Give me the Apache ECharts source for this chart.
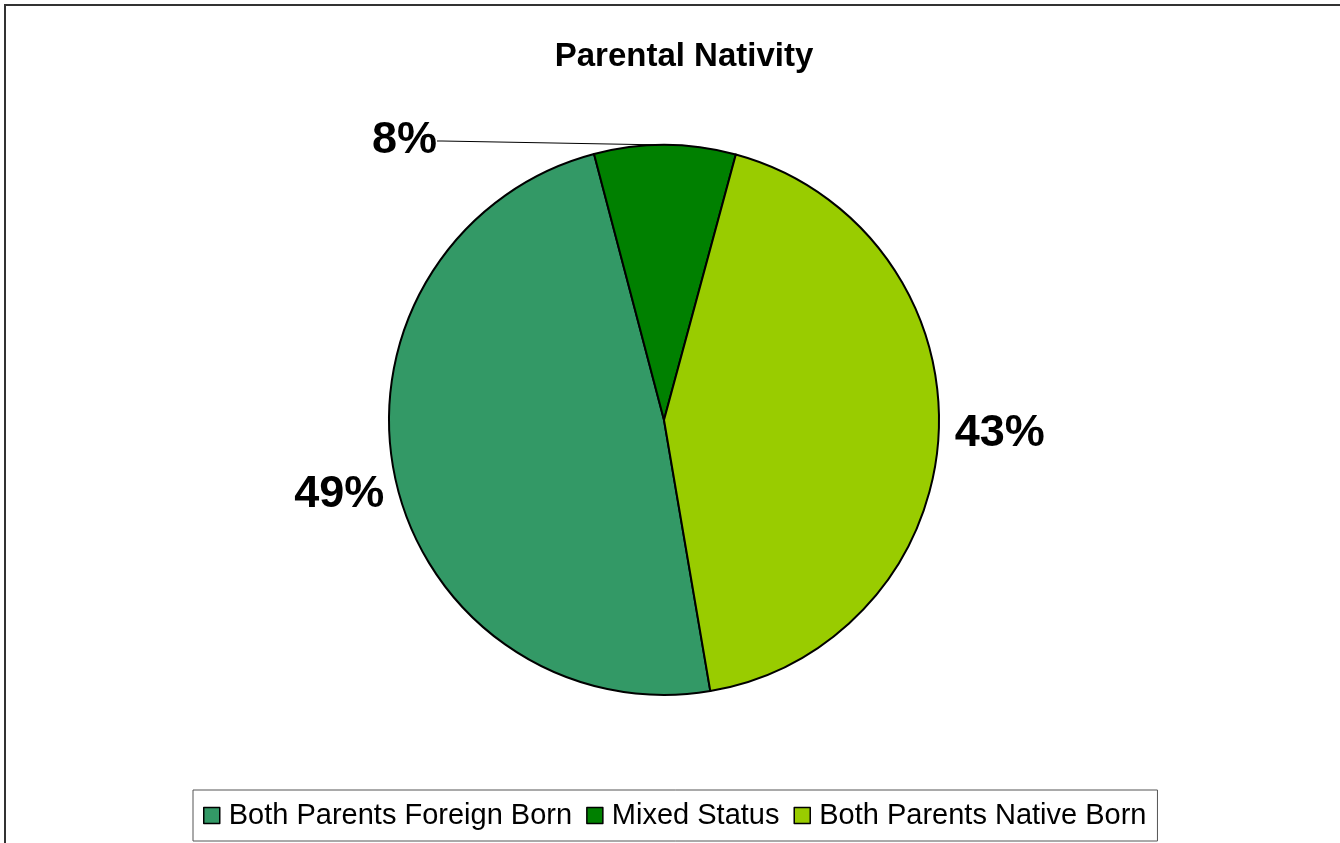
<!DOCTYPE html>
<html>
<head>
<meta charset="utf-8">
<title>Parental Nativity</title>
<script src="https://cdn.jsdelivr.net/npm/echarts@6/dist/echarts.min.js"></script>
<style>
  html, body { margin: 0; padding: 0; background: #fff; }
  #chart { width: 1340px; height: 843px; }
</style>
</head>
<body>
<div id="chart"></div>
<script>
// categories and shares (percent)
var categories = ['Both Parents Foreign Born', 'Mixed Status', 'Both Parents Native Born']
var shares = [48.6, 8.3, 43.1]
var sliceColors = ['#339966', '#008000', '#99CC00']

var chart = echarts.init(document.getElementById('chart'))

chart.setOption({
  backgroundColor: '#fff',
  animation: false,
  title: {
    text: 'Parental Nativity',
    left: 679,
    textAlign: 'center',
    top: 35,
    textStyle: {
      fontFamily: 'Liberation Sans, Arial',
      fontSize: 33,
      fontWeight: 'bold',
      color: '#000'
    }
  },
  legend: {
    data: categories,
    left: 193,
    top: 790,
    orient: 'horizontal',
    icon: 'rect',
    itemWidth: 16,
    itemHeight: 16,
    itemGap: 14,
    padding: [11, 11, 11, 10],
    borderColor: '#555',
    borderWidth: 1,
    backgroundColor: '#fff',
    itemStyle: { borderColor: '#000', borderWidth: 1.5 },
    textStyle: {
      fontFamily: 'Liberation Sans, Arial',
      fontSize: 29,
      color: '#000',
      padding: [0, 0, 0, 4]
    }
  },
  graphic: [{
    type: 'rect',
    silent: true,
    shape: { x: 5, y: 5, width: 1400, height: 900 },
    style: { fill: 'none', stroke: '#333', lineWidth: 2 }
  }],
  series: [{
    type: 'pie',
    center: [664, 420],
    radius: 275,
    startAngle: -80.3,
    clockwise: true,
    avoidLabelOverlap: false,
    itemStyle: { borderColor: '#000', borderWidth: 2 },
    label: {
      show: true,
      position: 'outside',
      fontFamily: 'Liberation Sans, Arial',
      fontSize: 45,
      fontWeight: 'bold',
      color: '#000',
      formatter: function(p) {
        return Math.round(p.percent) + '%'
      }
    },
    labelLine: { show: false, length: 6, length2: 5 },
    labelLayout: function(params) {
      // Mixed Status label sits up-left with a leader line
      if (params.dataIndex === 1) {
        return { x: 437, y: 141, align: 'right', verticalAlign: 'middle' }
      }
      if (params.dataIndex === 0) {
        return { dx: 5, dy: 15 }
      }
      return {}
    },
    emphasis: { disabled: true },
    data: categories.map(function(name, i) {
      var item = { name: name, value: shares[i], itemStyle: { color: sliceColors[i] } }
      if (i === 1) {
        item.labelLine = { show: true, lineStyle: { color: '#000', width: 1 } }
      }
      return item
    })
  }]
})
</script>
</body>
</html>
